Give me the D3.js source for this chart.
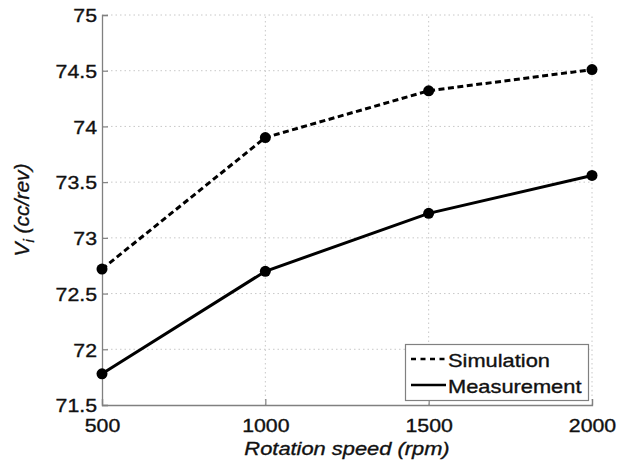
<!DOCTYPE html>
<html>
<head>
<meta charset="utf-8">
<script src="https://cdn.jsdelivr.net/npm/d3@7"></script>
<style>
  html, body { margin: 0; padding: 0; background: #fff; }
  svg text { font-family: "Liberation Sans", Arial, sans-serif; fill: #111; stroke: #111; stroke-width: 0.35px; }
</style>
</head>
<body>
<svg id="chart" width="630" height="464"></svg>
<script>
// Rotation speed (rpm)
const speeds = [500, 1000, 1500, 2000];
// Volume per revolution, cc/rev
const simulation = [72.72, 73.90, 74.32, 74.51];
const measurement = [71.78, 72.70, 73.22, 73.56];
const xTicks = [500, 1000, 1500, 2000];
const yTicks = [71.5, 72, 72.5, 73, 73.5, 74, 74.5, 75];

const margin = { left: 102, right: 38, top: 15, bottom: 59 };
const W = 630, H = 464;
const svg = d3.select("#chart");

const x = d3.scaleLinear().domain([500, 2000]).range([margin.left, W - margin.right]);
const y = d3.scaleLinear().domain([71.5, 75]).range([H - margin.bottom, margin.top]);

// widen glyphs slightly, keeping their height
function widen(sel, k) {
  sel.each(function () {
    const len = this.getComputedTextLength();
    d3.select(this).attr("textLength", len * k).attr("lengthAdjust", "spacingAndGlyphs");
  });
}

// dotted grid
const grid = svg.append("g").attr("stroke", "#c8c8c8").attr("stroke-width", 1)
  .attr("stroke-dasharray", "1.5,3");
grid.selectAll("line.v").data(xTicks.slice(1)).join("line")
  .attr("x1", d => x(d)).attr("x2", d => x(d))
  .attr("y1", y(71.5)).attr("y2", y(75));
grid.selectAll("line.h").data(yTicks.slice(1)).join("line")
  .attr("x1", x(500)).attr("x2", x(2000))
  .attr("y1", d => y(d)).attr("y2", d => y(d));

// axes
const xAxis = d3.axisBottom(x).tickValues(xTicks).tickSize(-6).tickPadding(14)
  .tickFormat(d3.format("d"));
const yAxis = d3.axisLeft(y).tickValues(yTicks).tickSize(-6).tickPadding(5)
  .tickFormat(d => d3.format("")(d));

const gx = svg.append("g").attr("transform", `translate(0,${y(71.5)})`).call(xAxis);
const gy = svg.append("g").attr("transform", `translate(${x(500)},0)`).call(yAxis);
[gx, gy].forEach(g => {
  g.select(".domain").attr("stroke", "#808080").attr("stroke-width", 1.3);
  g.selectAll(".tick line").attr("stroke", "#808080").attr("stroke-width", 1.2);
  g.selectAll(".tick text").attr("font-size", 19).attr("fill", "#111")
    .attr("font-family", "Liberation Sans, Arial, sans-serif");
});
gx.selectAll(".tick text").attr("dy", "0.71em");
gy.selectAll(".tick text").attr("dy", "0.36em");
widen(gx.selectAll(".tick text"), 1.12);
widen(gy.selectAll(".tick text"), 1.12);

// axis titles
const xt = svg.append("text").attr("x", x(1250)).attr("y", 455)
  .attr("text-anchor", "middle").attr("font-size", 19).attr("font-style", "italic")
  .text("Rotation speed (rpm)");
widen(xt, 1.15);

const yt = svg.append("text")
  .attr("transform", `translate(29,${(y(71.5) + y(75)) / 2}) rotate(-90)`)
  .attr("text-anchor", "middle").attr("font-size", 21).attr("font-style", "italic");
yt.append("tspan").text("V");
yt.append("tspan").attr("font-size", 15).attr("dy", 5).text("i");
yt.append("tspan").attr("dy", -5).text(" (cc/rev)");

// series
const line = d3.line().x((d, i) => x(speeds[i])).y(d => y(d));
const series = [
  { name: "Simulation", values: simulation, dash: "6,3.5" },
  { name: "Measurement", values: measurement, dash: null }
];
series.forEach(s => {
  svg.append("path").datum(s.values).attr("d", line)
    .attr("fill", "none").attr("stroke", "#000").attr("stroke-width", 3)
    .attr("stroke-dasharray", s.dash);
  svg.append("g").selectAll("circle").data(s.values).join("circle")
    .attr("cx", (d, i) => x(speeds[i])).attr("cy", d => y(d))
    .attr("r", 5.5).attr("fill", "#000");
});

// legend
const lg = svg.append("g");
lg.append("rect").attr("x", 405.5).attr("y", 344.5).attr("width", 183).attr("height", 56)
  .attr("fill", "#fff").attr("stroke", "#808080").attr("stroke-width", 1.2);
series.forEach((s, i) => {
  const cy = 359 + i * 26;
  lg.append("line").attr("x1", 411).attr("x2", 446).attr("y1", cy).attr("y2", cy)
    .attr("stroke", "#000").attr("stroke-width", 2.5)
    .attr("stroke-dasharray", s.dash ? "5,4.5" : null);
  const t = lg.append("text").attr("x", 448).attr("y", cy + 8)
    .attr("font-size", 18.5).text(s.name);
  widen(t, 1.18);
});
</script>
</body>
</html>
